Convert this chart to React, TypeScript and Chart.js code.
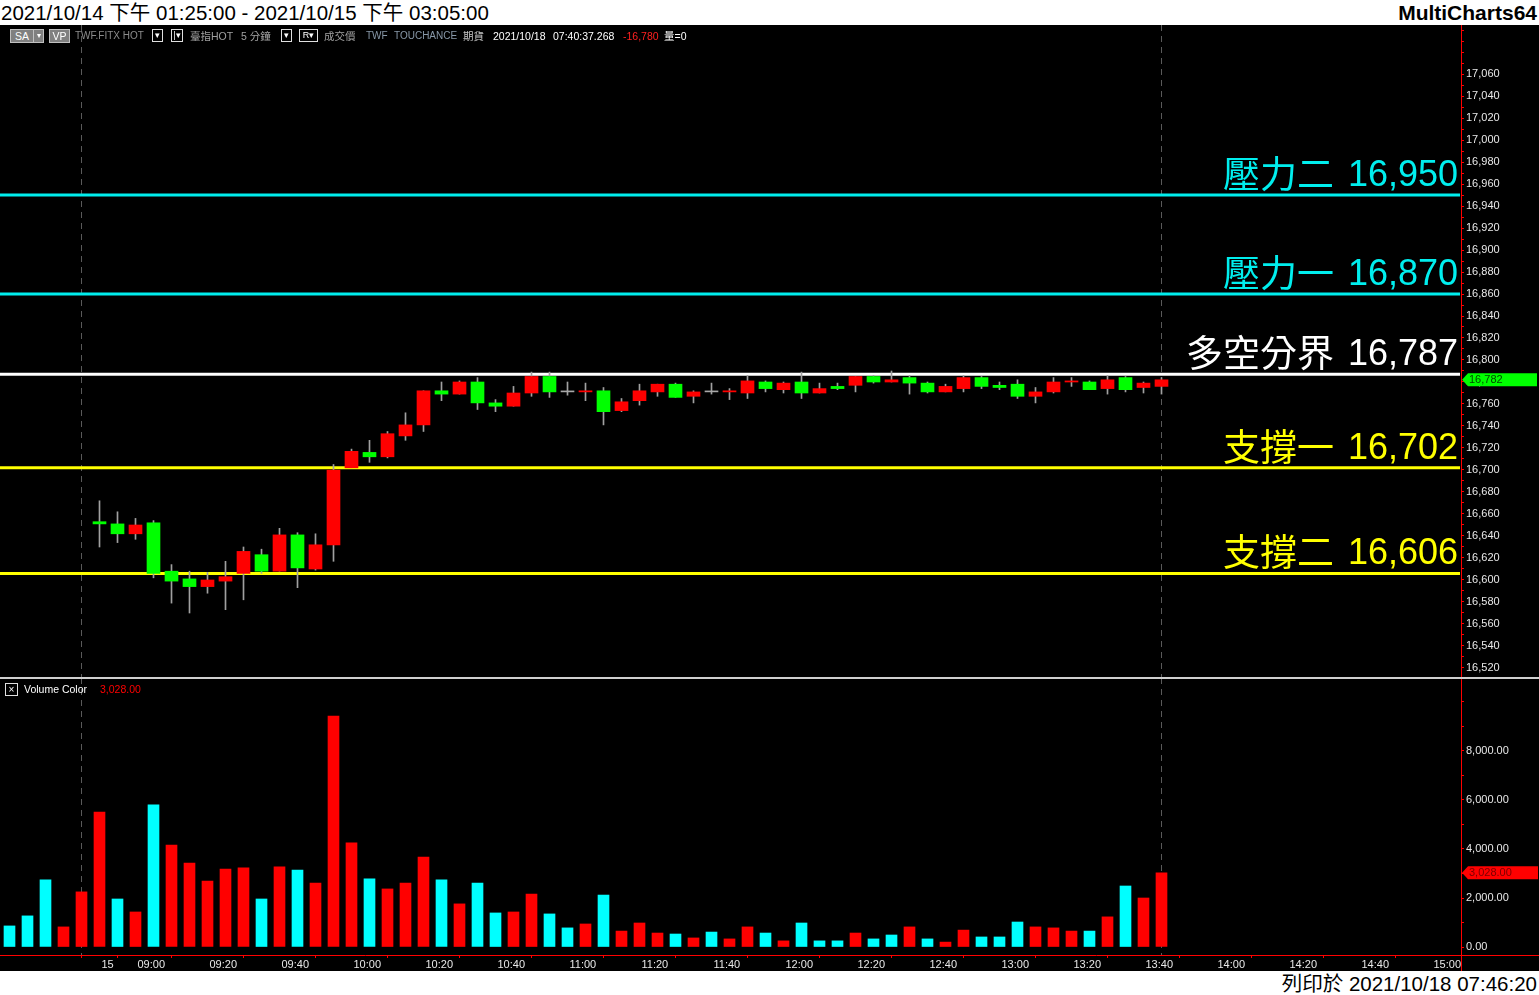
import React, { useEffect, useRef } from 'react';
import { Chart, registerables } from 'chart.js';

Chart.register(...registerables);

// 5-minute bars. Index 0-4: 2021/10/14 13:25-13:45 (below the visible price range),
// index 5-64: 2021/10/15 08:50-13:45
const NA = null;
const opens: (number | null)[] = [NA, NA, NA, NA, NA,
  16653, 16651, 16642, 16652, 16608, 16601, 16594, 16599, 16606, 16623,
  16608, 16641, 16610, 16632, 16702, 16716, 16712, 16731, 16741, 16772,
  16769, 16780, 16761, 16758, 16770, 16785, 16771, 16771, 16772, 16754,
  16763, 16771, 16778, 16767, 16771, 16771, 16770, 16780, 16773, 16780,
  16770, 16776, 16777, 16785, 16780, 16784, 16779, 16771, 16774, 16784,
  16777, 16778, 16767, 16771, 16780, 16780, 16774, 16784, 16775, 16776];
const highs: (number | null)[] = [NA, NA, NA, NA, NA,
  16672, 16662, 16656, 16654, 16614, 16608, 16607, 16617, 16630, 16628,
  16647, 16643, 16642, 16705, 16719, 16727, 16735, 16752, 16772, 16780,
  16781, 16784, 16764, 16776, 16789, 16789, 16780, 16779, 16775, 16765,
  16778, 16778, 16779, 16772, 16779, 16774, 16786, 16781, 16780, 16789,
  16779, 16779, 16785, 16786, 16790, 16786, 16780, 16778, 16786, 16785,
  16780, 16782, 16775, 16784, 16784, 16781, 16786, 16785, 16780, 16784];
const lows: (number | null)[] = [NA, NA, NA, NA, NA,
  16630, 16634, 16637, 16602, 16579, 16570, 16588, 16573, 16582, 16606,
  16608, 16593, 16609, 16617, 16702, 16707, 16711, 16727, 16735, 16763,
  16769, 16755, 16753, 16758, 16767, 16766, 16768, 16763, 16741, 16753,
  16759, 16767, 16766, 16761, 16769, 16764, 16765, 16771, 16770, 16765,
  16770, 16773, 16771, 16779, 16780, 16769, 16770, 16771, 16771, 16774,
  16773, 16765, 16761, 16770, 16776, 16773, 16769, 16771, 16770, 16769];
const closes: (number | null)[] = [NA, NA, NA, NA, NA,
  16651, 16642, 16650, 16606, 16599, 16594, 16600, 16603, 16626, 16608,
  16641, 16611, 16632, 16700, 16717, 16712, 16733, 16741, 16772, 16769,
  16780, 16761, 16758, 16770, 16785, 16771, 16771, 16772, 16753, 16762,
  16772, 16778, 16766, 16771, 16771, 16772, 16781, 16774, 16779, 16770,
  16774, 16774, 16785, 16780, 16782, 16779, 16771, 16776, 16784, 16776,
  16775, 16767, 16771, 16780, 16781, 16773, 16782, 16773, 16779, 16782];

const volumes: number[] = [
  860, 1270, 2740, 820, 2250, 5510, 1960, 1430, 5800, 4160,
  3430, 2690, 3180, 3230, 1960, 3270, 3140, 2610, 9430, 4250,
  2780, 2370, 2610, 3670, 2740, 1760, 2610, 1390, 1430, 2160,
  1350, 780, 940, 2120, 650, 980, 570, 530, 370, 610,
  330, 820, 570, 250, 980, 250, 250, 570, 330, 490,
  820, 330, 200, 690, 410, 410, 1020, 820, 780, 650,
  650, 1230, 2490, 2000, 3028];
// 1 = up volume (red), -1 = down volume (cyan)
const volumeDir: number[] = [
  -1, -1, -1, 1, 1, 1, -1, 1, -1, 1,
  1, 1, 1, 1, -1, 1, -1, 1, 1, 1,
  -1, 1, 1, 1, -1, 1, -1, -1, 1, 1,
  -1, -1, 1, -1, 1, 1, 1, -1, 1, -1,
  1, 1, -1, 1, -1, -1, -1, 1, -1, -1,
  1, -1, 1, 1, -1, -1, -1, 1, 1, 1,
  -1, 1, -1, 1, 1];

const sessionEnds = [4, 64];

const xTickIndex = [5, 7, 11, 15, 19, 23, 27, 31, 35, 39, 43, 47, 51, 55, 59, 63, 67, 71, 75, 79];
const xTickLabels = ['15', '09:00', '09:20', '09:40', '10:00', '10:20', '10:40', '11:00', '11:20', '11:40',
  '12:00', '12:20', '12:40', '13:00', '13:20', '13:40', '14:00', '14:20', '14:40', '15:00'];

const priceTicks = [16520, 16540, 16560, 16580, 16600, 16620, 16640, 16660, 16680, 16700,
  16720, 16740, 16760, 16780, 16800, 16820, 16840, 16860, 16880, 16900,
  16920, 16940, 16960, 16980, 17000, 17020, 17040, 17060];
const volumeTicks = [0, 2000, 4000, 6000, 8000];

const levelValues = [16950, 16860, 16787, 16702, 16606];
const levelNames = ['壓力二', '壓力一', '多空分界', '支撐一', '支撐二'];
const levelTexts = ['16,950', '16,870', '16,787', '16,702', '16,606'];

const lastPrice = 16782;
const lastVolume = 3028;

// ---- layout / style ----
const W = 1539;
const PRICE_TOP = 25, PRICE_H = 652;
const VOL_TOP = 678, VOL_H = 293;
const AXIS_W = 78;
const X_MIN = -9.5 / 18, X_MAX = (1461 - 9.5) / 18;
const P_MAX = 16960 + 159 / 1.1, P_MIN = 16960 - (652 - 159) / 1.1;
const V_MAX = 269 / 0.0245, V_MIN = -8 / 0.0245;
const LEVEL_COLORS = ['#00eeee', '#00eeee', '#ffffff', '#ffff00', '#ffff00'];
const AX_FONT = { family: '"Liberation Sans", Arial, sans-serif', size: 11 };
const UP = '#ff0000', DOWN = '#00ff00', FLAT = '#a8a8a8';

const fmt = (v: number) => v.toLocaleString('en-US');

function drawSessionBreaks(chart: any) {
  const { ctx, chartArea: a, scales } = chart;
  ctx.save();
  ctx.strokeStyle = '#5a5a5a';
  ctx.lineWidth = 1;
  ctx.setLineDash([6, 5]);
  sessionEnds.forEach((i) => {
    const px = Math.floor(scales.x.getPixelForValue(i)) + 0.5;
    ctx.beginPath();
    ctx.moveTo(px, a.top);
    ctx.lineTo(px, a.bottom);
    ctx.stroke();
  });
  ctx.restore();
}

function drawTag(ctx: CanvasRenderingContext2D, x0: number, x1: number, py: number, fill: string, textColor: string, text: string) {
  ctx.save();
  ctx.fillStyle = fill;
  ctx.beginPath();
  ctx.moveTo(x0 + 1, py);
  ctx.lineTo(x0 + 7, py - 6.5);
  ctx.lineTo(x1, py - 6.5);
  ctx.lineTo(x1, py + 6.5);
  ctx.lineTo(x0 + 7, py + 6.5);
  ctx.closePath();
  ctx.fill();
  ctx.fillStyle = textColor;
  ctx.font = '11px "Liberation Sans", Arial, sans-serif';
  ctx.textAlign = 'left';
  ctx.textBaseline = 'middle';
  ctx.fillText(text, x0 + 8, py + 0.5);
  ctx.restore();
}

const pricePlugin = {
  id: 'priceDecor',
  beforeDatasetsDraw(chart: any) {
    drawSessionBreaks(chart);
    const { ctx, chartArea: a, scales } = chart;
    ctx.save();
    levelValues.forEach((v, k) => {
      const py = scales.y.getPixelForValue(v);
      ctx.strokeStyle = LEVEL_COLORS[k];
      ctx.lineWidth = 3;
      ctx.beginPath();
      ctx.moveTo(a.left, py);
      ctx.lineTo(a.right - 1, py);
      ctx.stroke();
    });
    ctx.restore();
  },
  afterDatasetsDraw(chart: any) {
    const { ctx, chartArea: a, scales } = chart;
    ctx.save();
    ctx.textAlign = 'right';
    ctx.textBaseline = 'alphabetic';
    levelValues.forEach((v, k) => {
      const py = scales.y.getPixelForValue(v);
      const right = a.right - 3;
      ctx.fillStyle = LEVEL_COLORS[k];
      ctx.font = '36px "Liberation Sans", Arial, sans-serif';
      const numW = ctx.measureText(levelTexts[k]).width;
      ctx.fillText(levelTexts[k], right, py - 9);
      ctx.font = '37px "Noto Sans CJK TC", sans-serif';
      ctx.fillText(levelNames[k], right - numW - 14, py - 7);
    });
    ctx.restore();
  },
  afterDraw(chart: any) {
    const { ctx, chartArea: a, scales } = chart;
    const py = scales.y.getPixelForValue(lastPrice);
    drawTag(ctx, a.right, chart.width - 2, py, '#00ff00', '#004800', fmt(lastPrice));
  },
};

const volumePlugin = {
  id: 'volumeDecor',
  beforeDatasetsDraw(chart: any) {
    drawSessionBreaks(chart);
  },
  afterDraw(chart: any) {
    const { ctx, chartArea: a, scales } = chart;
    ctx.save();
    ctx.strokeStyle = '#ff0000';
    ctx.lineWidth = 1;
    ctx.beginPath();
    ctx.moveTo(a.right, Math.round(a.bottom) + 0.5);
    ctx.lineTo(chart.width, Math.round(a.bottom) + 0.5);
    ctx.moveTo(Math.round(a.right) + 0.5, a.bottom);
    ctx.lineTo(Math.round(a.right) + 0.5, chart.height);
    ctx.stroke();
    ctx.restore();
    const py = scales.y.getPixelForValue(lastVolume);
    drawTag(ctx, a.right, chart.width - 1, py, '#ff0000', '#7a0000', lastVolume.toLocaleString('en-US', { minimumFractionDigits: 2 }));
  },
};

export default function App() {
  const priceRef = useRef<HTMLCanvasElement>(null);
  const volRef = useRef<HTMLCanvasElement>(null);

  useEffect(() => {
    const idx = opens.map((_, i) => i).filter((i) => opens[i] !== null);
    const wickData = idx.map((i) => ({ x: i, y: [lows[i] as number, highs[i] as number] }));
    const bodyData = idx.map((i) => ({ x: i, y: [opens[i] as number, closes[i] as number] }));
    const bodyColors = idx.map((i) => {
      const o = opens[i] as number, c = closes[i] as number;
      return c > o ? UP : c < o ? DOWN : FLAT;
    });

    const yAxisCommon = {
      position: 'right' as const,
      bounds: 'data' as const,
      grid: { drawOnChartArea: false, drawTicks: true, tickLength: 3, color: '#ff0000' },
      border: { display: true, color: '#ff0000', width: 1 },
    };

    const pc = new Chart(priceRef.current as HTMLCanvasElement, {
      type: 'bar',
      data: {
        datasets: [
          { data: wickData as any, backgroundColor: '#a0a0a0', barThickness: 1, grouped: false, order: 2 } as any,
          { data: bodyData as any, backgroundColor: bodyColors, barThickness: 13, minBarLength: 1, grouped: false, order: 1 } as any,
        ],
      },
      options: {
        animation: false,
        responsive: false,
        devicePixelRatio: 1,
        layout: { padding: 0 },
        plugins: { legend: { display: false }, tooltip: { enabled: false } },
        scales: {
          x: { type: 'linear', display: false, min: X_MIN, max: X_MAX, offset: false, bounds: 'data' },
          y: {
            ...yAxisCommon,
            min: P_MIN,
            max: P_MAX,
            afterBuildTicks: (s: any) => {
              const t: any[] = [];
              for (let v = 16510; v <= 17100; v += 10) t.push({ value: v });
              s.ticks = t;
            },
            afterFit: (s: any) => { s.width = AXIS_W; s.paddingTop = 0; s.paddingBottom = 0; },
            ticks: {
              autoSkip: false,
              padding: 2,
              color: '#e8e8e8',
              font: AX_FONT,
              callback: (v: any) => (priceTicks.includes(v) ? fmt(v) : ''),
            },
          } as any,
        },
      },
      plugins: [pricePlugin],
    });

    const vc = new Chart(volRef.current as HTMLCanvasElement, {
      type: 'bar',
      data: {
        datasets: [{
          data: volumes.map((v, i) => ({ x: i, y: v })) as any,
          backgroundColor: volumeDir.map((d) => (d > 0 ? '#ff0000' : '#00ffff')),
          barThickness: 11,
          grouped: false,
        } as any],
      },
      options: {
        animation: false,
        responsive: false,
        devicePixelRatio: 1,
        layout: { padding: 0 },
        plugins: { legend: { display: false }, tooltip: { enabled: false } },
        scales: {
          x: {
            type: 'linear',
            position: 'bottom',
            min: X_MIN,
            max: X_MAX,
            offset: false,
            bounds: 'data',
            afterBuildTicks: (s: any) => { s.ticks = xTickIndex.map((v) => ({ value: v })); },
            afterFit: (s: any) => { s.height = VOL_H - 277; s.paddingLeft = 0; s.paddingRight = 0; },
            grid: { drawOnChartArea: false, drawTicks: true, tickLength: 3, color: '#ff0000' },
            border: { display: true, color: '#ff0000', width: 1 },
            ticks: {
              autoSkip: false,
              maxRotation: 0,
              align: 'start',
              labelOffset: 2,
              padding: 0,
              color: '#e8e8e8',
              font: AX_FONT,
              callback: (v: any) => xTickLabels[xTickIndex.indexOf(v)] ?? '',
            },
          } as any,
          y: {
            ...yAxisCommon,
            min: V_MIN,
            max: V_MAX,
            afterBuildTicks: (s: any) => {
              const t: any[] = [];
              for (let v = 0; v <= 10000; v += 1000) t.push({ value: v });
              s.ticks = t;
            },
            afterFit: (s: any) => { s.width = AXIS_W; s.paddingTop = 0; s.paddingBottom = 0; },
            ticks: {
              autoSkip: false,
              padding: 2,
              color: '#e8e8e8',
              font: AX_FONT,
              callback: (v: any) => (volumeTicks.includes(v) ? v.toLocaleString('en-US', { minimumFractionDigits: 2 }) : ''),
            },
          } as any,
        },
      },
      plugins: [volumePlugin],
    });

    return () => {
      pc.destroy();
      vc.destroy();
    };
  }, []);

  const font = '"Liberation Sans", Arial, "Noto Sans CJK TC", sans-serif';
  const abs = (l: number, t: number, extra: React.CSSProperties = {}): React.CSSProperties => ({
    position: 'absolute', left: l, top: t, whiteSpace: 'nowrap', ...extra,
  });
  const infoTxt = (l: number, text: string, color: string, size = 10.5) => (
    <span style={abs(l, 30, { color, fontSize: size, lineHeight: '12px' })}>{text}</span>
  );
  const ddBox = (l: number, w: number, text: string) => (
    <span style={abs(l, 29, {
      width: w, height: 11, border: '1px solid #e0e0e0', color: '#fff', fontSize: 9,
      lineHeight: '11px', textAlign: 'center', background: '#000',
    })}>{text}</span>
  );

  return (
    <div style={{ position: 'absolute', left: 0, top: 0, width: W, height: 995, background: '#fff', overflow: 'hidden', fontFamily: font }}>
      <div style={abs(1, 0, { fontSize: 20.5, lineHeight: '25px', color: '#000' })}>
        2021/10/14 下午 01:25:00 - 2021/10/15 下午 03:05:00
      </div>
      <div style={abs(0, 0, { width: W - 2, textAlign: 'right', fontSize: 21, fontWeight: 'bold', lineHeight: '25px', color: '#000' })}>
        MultiCharts64
      </div>
      <div style={abs(0, PRICE_TOP, { width: W, height: 971 - PRICE_TOP, background: '#000' })} />
      <canvas ref={priceRef} width={W} height={PRICE_H} style={abs(0, PRICE_TOP, { width: W, height: PRICE_H })} />
      <canvas ref={volRef} width={W} height={VOL_H} style={abs(0, VOL_TOP, { width: W, height: VOL_H })} />
      <div style={abs(0, 677, { width: W, height: 2, background: '#cfcfcf' })} />

      {/* info bar */}
      <span style={abs(10, 29, { width: 22, height: 12, background: '#808080', border: '1px solid #c0c0c0', color: '#fff', fontSize: 10.5, lineHeight: '12px', textAlign: 'center' })}>SA</span>
      <span style={abs(33, 29, { width: 9, height: 12, background: '#808080', border: '1px solid #c0c0c0', color: '#fff', fontSize: 8, lineHeight: '12px', textAlign: 'center' })}>▾</span>
      <span style={abs(49, 29, { width: 19, height: 12, background: '#808080', border: '1px solid #c0c0c0', color: '#fff', fontSize: 10.5, lineHeight: '12px', textAlign: 'center' })}>VP</span>
      {infoTxt(75, 'TWF.FITX HOT', '#8c8c8c', 10)}
      {ddBox(152, 9, '▾')}
      {ddBox(171, 10, '|▾')}
      {infoTxt(190, '臺指HOT', '#a0a0a0', 10.5)}
      {infoTxt(241, '5 分鐘', '#a0a0a0', 10.5)}
      {ddBox(281, 9, '▾')}
      {ddBox(299, 17, 'R▾')}
      {infoTxt(324, '成交價', '#a0a0a0', 10.5)}
      {infoTxt(366, 'TWF', '#8898a8', 10)}
      {infoTxt(394, 'TOUCHANCE', '#8898a8', 10)}
      {infoTxt(463, '期貨', '#c8c8c8', 10.5)}
      {infoTxt(493, '2021/10/18', '#ffffff', 10.5)}
      {infoTxt(553, '07:40:37.268', '#ffffff', 10.5)}
      {infoTxt(623, '-16,780', '#ff2020', 10.5)}
      {infoTxt(664, '量=0', '#ffffff', 10.5)}

      {/* volume pane label */}
      <span style={abs(5, 683, { width: 11, height: 11, border: '1px solid #e0e0e0', color: '#fff', fontSize: 10, lineHeight: '11px', textAlign: 'center' })}>×</span>
      <span style={abs(24, 683, { color: '#fff', fontSize: 10.5, lineHeight: '13px' })}>Volume Color</span>
      <span style={abs(100, 683, { color: '#ff0000', fontSize: 10.5, lineHeight: '13px' })}>3,028.00</span>

      <div style={abs(0, 972, { width: W - 2, textAlign: 'right', fontSize: 20.5, lineHeight: '23px', color: '#000' })}>
        列印於 2021/10/18 07:46:20
      </div>
    </div>
  );
}
